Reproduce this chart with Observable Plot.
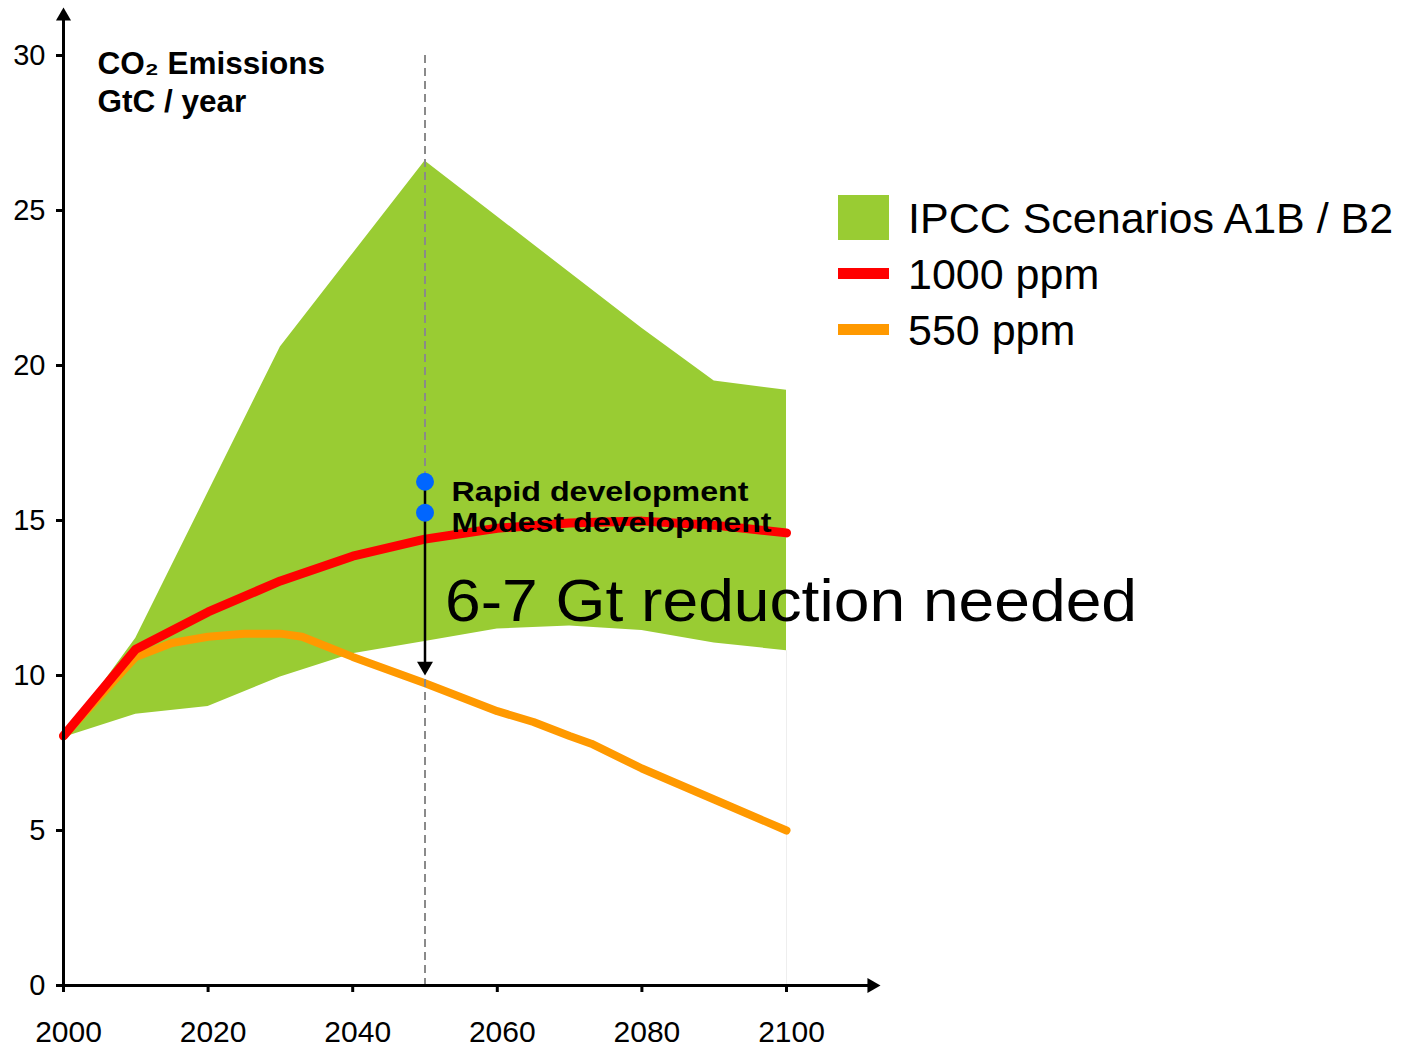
<!DOCTYPE html>
<html>
<head>
<meta charset="utf-8">
<script src="https://cdn.jsdelivr.net/npm/d3@7"></script>
<script src="https://cdn.jsdelivr.net/npm/@observablehq/plot@0.6"></script>
<style>
  html, body { margin: 0; padding: 0; background: #fff; }
  #chart { position: relative; width: 1403px; height: 1045px; font-family: "Liberation Sans", Arial, Helvetica, sans-serif; }
  #legend { position: absolute; left: 838px; top: 189.5px; }
  #legend .row { display: flex; align-items: center; height: 56px; }
  #legend .swatch { width: 51px; margin-right: 19px; flex: none; }
  #legend .label { font-size: 43px; line-height: 1; color: #000; white-space: nowrap; position: relative; top: 1px; }
</style>
</head>
<body>
<div id="chart"></div>
<script>
// IPCC A1B / B2 envelope and the 1000 ppm stabilisation pathway (GtC per year)
const years    = [2000, 2010, 2020, 2030, 2040, 2050, 2060, 2070, 2080, 2090, 2100];
const ipccLow  = [8.0, 8.75, 9.0, 9.95, 10.7, 11.1, 11.5, 11.6, 11.45, 11.05, 10.8];
const ipccHigh = [8.0, 11.2, 15.9, 20.6, 23.6, 26.6, 24.8, 23.0, 21.2, 19.5, 19.2];
const ppm1000  = [8.05, 10.85, 12.05, 13.05, 13.85, 14.4, 14.75, 14.92, 14.98, 14.85, 14.6];

// 550 ppm stabilisation pathway
const years550 = [2000, 2010, 2015, 2020, 2025, 2030, 2033, 2040, 2050, 2060, 2065, 2070, 2073, 2080, 2090, 2100];
const ppm550   = [8.05, 10.6, 11.05, 11.25, 11.35, 11.35, 11.25, 10.6, 9.75, 8.85, 8.5, 8.05, 7.8, 7.0, 6.0, 5.0];

// Axis ticks
const xTicks = [2000, 2020, 2040, 2060, 2080, 2100];
const yTicks = [0, 5, 10, 15, 20, 25, 30];

// 2050 milestone: development cases and the reduction arrow
const milestoneYear = 2050;
const devLabels = ["Rapid development", "Modest development"];
const devValues = [16.25, 15.25];
const targetValue = 10.0;
const reductionLabel = "6-7 Gt reduction needed";

// Texts
const titleLines = ["CO\u2082 Emissions", "GtC / year"];
const legendLabels = ["IPCC Scenarios A1B / B2", "1000 ppm", "550 ppm"];
const legendColors = ["#99cc33", "#ff0000", "#ff9900"];
const legendKinds  = ["area", "line", "line"];

// axis extents (arrow tips) beyond the plotted domain
const xAxisEnd = 2113;
const yAxisEnd = 31.55;

const [GREEN, RED, ORANGE] = legendColors;

const band = years.map((year, i) => ({year, low: ipccLow[i], high: ipccHigh[i]}));
const line1000 = years.map((year, i) => ({year, value: ppm1000[i]}));
const line550 = years550.map((year, i) => ({year, value: ppm550[i]}));
const dev = devLabels.map((label, i) => ({year: milestoneYear, value: devValues[i], label}));
const reduction = [{year: milestoneYear, value: (devValues[1] + targetValue) / 2, label: reductionLabel}];

const FONT = "'Liberation Sans', Arial, Helvetica, sans-serif";

const plot = Plot.plot({
  width: 1403,
  height: 1045,
  marginLeft: 63,
  marginRight: 617,
  marginTop: 55,
  marginBottom: 60,
  x: {domain: [2000, 2100], label: null},
  y: {domain: [0, 30], label: null},
  style: {fontFamily: FONT, fontSize: "29px", color: "#000", background: "transparent", overflow: "visible"},
  marks: [
    // scenario envelope
    Plot.areaY(band, {x: "year", y1: "low", y2: "high", fill: GREEN}),
    Plot.ruleX([years[years.length - 1]], {y1: ipccLow[ipccLow.length - 1], y2: 0, stroke: "#eeeeee", strokeWidth: 1}),

    // stabilisation pathways
    Plot.line(line550, {x: "year", y: "value", stroke: ORANGE, strokeWidth: 8, strokeLinejoin: "round"}),
    Plot.line(line1000, {x: "year", y: "value", stroke: RED, strokeWidth: 9, strokeLinejoin: "round"}),

    // 2050 guide
    Plot.ruleX([milestoneYear], {y1: 30, y2: 0, stroke: "#8a8a8a", strokeWidth: 2, strokeDasharray: "8,5"}),

    // reduction arrow
    Plot.ruleX([milestoneYear], {y1: devValues[0], y2: targetValue, stroke: "#000", strokeWidth: 2.5, insetBottom: 8}),
    Plot.dot([{year: milestoneYear, value: targetValue}], {x: "year", y: "value", symbol: "triangle", r: 5.9, fill: "#000", stroke: "none", rotate: 180, dy: -9.2}),

    // development cases
    Plot.dot(dev, {x: "year", y: "value", r: 9, fill: "#0066ff", stroke: "none"}),
    Plot.text(dev, {x: "year", y: "value", text: "label", dx: 26.5, dy: 10.3, fontSize: 28, fontWeight: "bold", textAnchor: "start", lineAnchor: "middle", fill: "#000"}),

    // reduction label
    Plot.text(reduction, {x: "year", y: "value", text: "label", dx: 20, dy: 8, fontSize: 59, textAnchor: "start", lineAnchor: "middle", fill: "#000"}),

    // axis title
    Plot.text([titleLines.join("\n")], {text: d => d, frameAnchor: "top-left", dx: 34, dy: -8.5, lineAnchor: "top", textAnchor: "start", lineHeight: 1.206, fontSize: 31.5, fontWeight: "bold", fill: "#000"}),

    // axes
    Plot.ruleX([2000], {y1: yAxisEnd, y2: 0, stroke: "#000", strokeWidth: 3, strokeLinecap: "square", insetTop: 8}),
    Plot.ruleY([0], {x1: 2000, x2: xAxisEnd, stroke: "#000", strokeWidth: 3, strokeLinecap: "square", insetRight: 8}),
    Plot.dot([{year: 2000, value: yAxisEnd}], {x: "year", y: "value", symbol: "triangle", r: 5.6, fill: "#000", stroke: "none", dy: 8.7}),
    Plot.dot([{year: xAxisEnd, value: 0}], {x: "year", y: "value", symbol: "triangle", r: 5.6, fill: "#000", stroke: "none", rotate: 90, dx: -8.7}),
    Plot.axisY({ticks: yTicks, tickSize: 7, tickPadding: 11, strokeWidth: 3, fontSize: 29, label: null, tickFormat: d => String(d)}),
    Plot.axisX({ticks: xTicks, tickSize: 7, strokeWidth: 3, fill: "none", label: null}),
    Plot.axisX({ticks: xTicks, tickSize: 7, tickPadding: 28, stroke: "none", dx: 5, fontSize: 30, label: null, tickFormat: d => String(d)})
  ]
});

// stretch the annotation texts to their set widths
const textLengths = {"Rapid development": 297, "Modest development": 320, "6-7 Gt reduction needed": 692};
d3.select(plot).selectAll("text").each(function () {
  const len = textLengths[this.textContent];
  if (len) {
    this.setAttribute("textLength", len);
    this.setAttribute("lengthAdjust", "spacingAndGlyphs");
  }
});

const chart = document.getElementById("chart");
chart.appendChild(plot);

// legend
const legend = d3.select(chart).append("div").attr("id", "legend");
legendLabels.forEach((label, i) => {
  const row = legend.append("div").attr("class", "row");
  row.append("div")
    .attr("class", "swatch")
    .style("height", legendKinds[i] === "area" ? "45px" : "11px")
    .style("background", legendColors[i]);
  row.append("div").attr("class", "label").text(label);
});
</script>
</body>
</html>
